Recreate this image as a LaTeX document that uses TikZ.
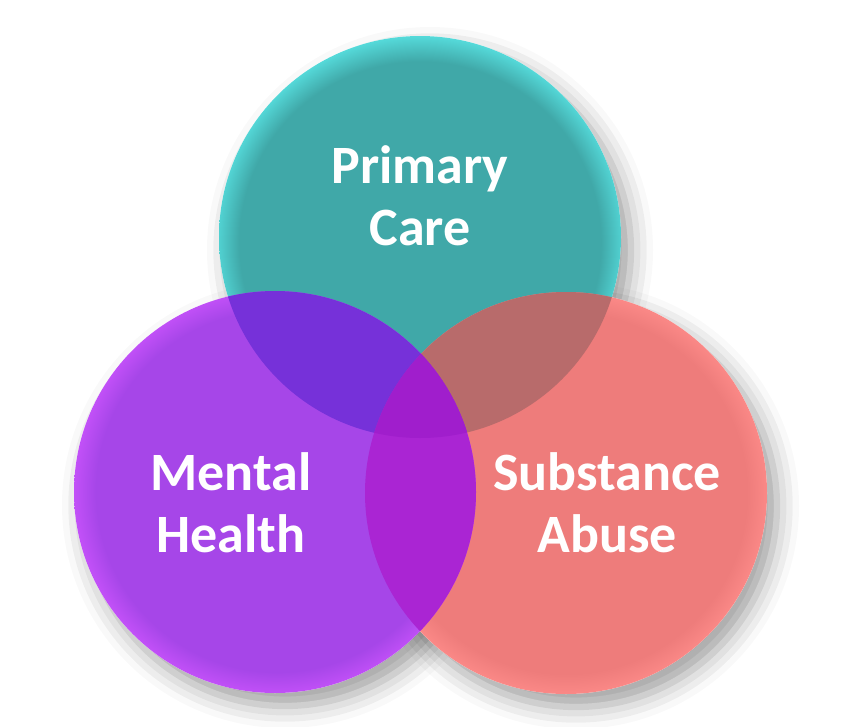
\documentclass[tikz,border=0pt]{standalone}
\usepackage{fontspec}
\setmainfont{Carlito}
\usetikzlibrary{shadows.blur}
\definecolor{tealC}{HTML}{40A8A8}
\definecolor{tealRim}{HTML}{55DADA}
\definecolor{purpC}{HTML}{A646E8}
\definecolor{purpRim}{HTML}{C652FA}
\definecolor{salmC}{HTML}{EE7C7B}
\definecolor{salmRim}{HTML}{FC8A88}
\definecolor{tpC}{HTML}{7631D9}
\definecolor{tsC}{HTML}{B86B6B}
\definecolor{psC}{HTML}{AA25D3}
\definecolor{allC}{HTML}{A01ECC}
\pgfdeclareradialshading{tealshade}{\pgfpoint{0bp}{-1.2bp}}{color(0bp)=(tealC);color(22.5bp)=(tealC);color(25.6bp)=(tealRim);color(50bp)=(tealRim)}
\pgfdeclareradialshading{purpshade}{\pgfpoint{0.4bp}{0.2bp}}{color(0bp)=(purpC);color(22.5bp)=(purpC);color(25.6bp)=(purpRim);color(50bp)=(purpRim)}
\pgfdeclareradialshading{salmshade}{\pgfpoint{0bp}{0bp}}{color(0bp)=(salmC);color(22.5bp)=(salmC);color(25.3bp)=(salmRim);color(50bp)=(salmRim)}
\tikzset{
  label text/.style={text=white,font=\bfseries\fontsize{54}{62}\selectfont,align=center,anchor=base,inner sep=0pt},
  base disc/.style={fill=white,blur shadow={shadow xshift=10pt,shadow yshift=-13pt,shadow blur radius=22pt,shadow opacity=38}}
}
\begin{document}
\begin{tikzpicture}[x=1pt,y=-1pt]
\useasboundingbox (0,0) rectangle (843,726);
\coordinate (T) at (420,237);
\coordinate (L) at (275,492);
\coordinate (S) at (566,493);
\def\R{201pt}
% shadows
\path[base disc] (T) circle[radius=\R];
\path[base disc] (L) circle[radius=\R];
\path[base disc] (S) circle[radius=\R];
% base discs
\shade[shading=tealshade] (T) circle[radius=\R];
\shade[shading=salmshade] (S) circle[radius=\R];
\shade[shading=purpshade] (L) circle[radius=\R];
% overlaps
\begin{scope}
  \clip (T) circle[radius=\R];
  \fill[tsC] (S) circle[radius=\R];
  \fill[tpC] (L) circle[radius=\R];
\end{scope}
\begin{scope}
  \clip (L) circle[radius=\R];
  \fill[psC] (S) circle[radius=\R];
\end{scope}
\begin{scope}
  \clip (T) circle[radius=\R];
  \clip (L) circle[radius=\R];
  \fill[allC] (S) circle[radius=\R];
\end{scope}
% labels
\node[label text] (pc) at (420,245) {Primary\\Care};
\node[label text] (mh) at (231,552) {Mental\\Health};
\node[label text] (sa) at (607,552) {Substance\\Abuse};
\end{tikzpicture}
\end{document}
